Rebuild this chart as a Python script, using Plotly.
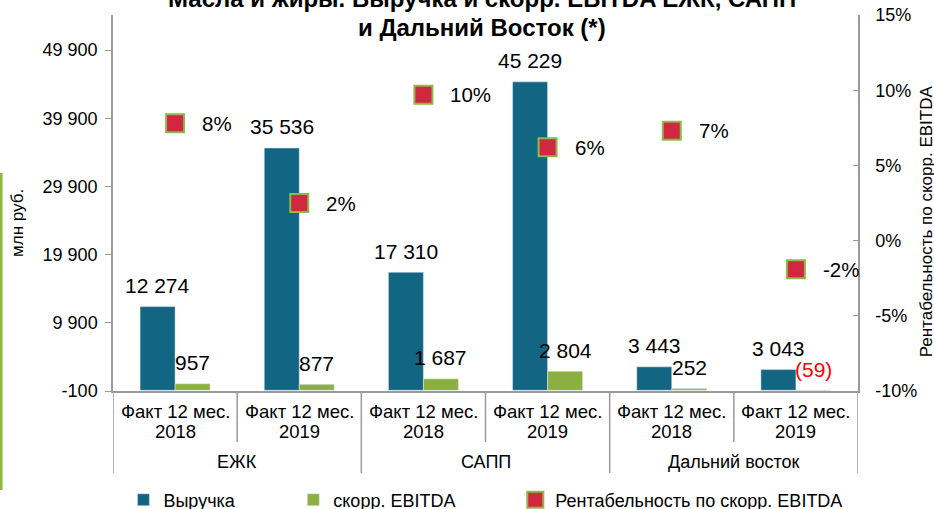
import plotly.graph_objects as go

# ---- data ----
groups = ["ЕЖК", "САПП", "Дальний восток"]
cat_group = ["ЕЖК", "ЕЖК", "САПП", "САПП", "Дальний восток", "Дальний восток"]
cat_period = ["Факт 12 мес."] * 6
cat_year = ["2018", "2019", "2018", "2019", "2018", "2019"]
revenue = [12274, 35536, 17310, 45229, 3443, 3043]
ebitda = [957, 877, 1687, 2804, 252, -59]
margin_pct = [7.8, 2.5, 9.7, 6.2, 7.3, -1.9]
margin_labels = ["8%", "2%", "10%", "6%", "7%", "-2%"]
left_tickvals = [-100, 9900, 19900, 29900, 39900, 49900]
left_ticktext = ["-100", "9 900", "19 900", "29 900", "39 900", "49 900"]
right_tickvals = [-10, -5, 0, 5, 10, 15]
right_ticktext = ["-10%", "-5%", "0%", "5%", "10%", "15%"]

title_line1 = "Масла и жиры. Выручка и скорр. EBITDA ЕЖК, САПП"
title_line2 = "и Дальний Восток (*)"

BLUE = "#126684"
GREEN = "#8BB041"
RED = "#D02840"
MGREEN = "#8DB84A"
GRAY = "#9A9A9A"
FONT = "Liberation Sans"

def fmt(v):
    s = f"{abs(v):,}".replace(",", " ")
    return f"({s})" if v < 0 else s

n = len(revenue)
xs = list(range(n))
bargap = 0.436
bw = (1 - bargap) / 2

fig = go.Figure()
fig.add_trace(go.Bar(x=xs, y=revenue, name="Выручка", marker=dict(color=BLUE),
                     legend="legend"))
fig.add_trace(go.Bar(x=xs, y=ebitda, name="скорр. EBITDA", marker=dict(color=GREEN),
                     legend="legend2"))
fig.add_trace(go.Scatter(x=xs, y=margin_pct, yaxis="y2", mode="markers",
                         name="Рентабельность по скорр. EBITDA",
                         marker=dict(symbol="square", size=18, color=RED,
                                     line=dict(color=MGREEN, width=2)),
                         cliponaxis=False, legend="legend3"))

ann = []
for i in xs:
    ann.append(dict(x=i - bw / 2, y=revenue[i], xref="x", yref="y", text=fmt(revenue[i]),
                    showarrow=False, yanchor="middle", yshift=21,
                    font=dict(size=21, color="black", family=FONT)))
    ann.append(dict(x=i + bw / 2, y=max(ebitda[i], 0), xref="x", yref="y", text=fmt(ebitda[i]),
                    showarrow=False, yanchor="middle", yshift=21,
                    font=dict(size=21, color="red" if ebitda[i] < 0 else "black", family=FONT)))
    ann.append(dict(x=i, y=margin_pct[i], xref="x", yref="y2", text=margin_labels[i],
                    showarrow=False, xanchor="left", yanchor="middle", xshift=25,
                    font=dict(size=20.5, color="black", family=FONT)))
    ann.append(dict(x=i, y=-0.0532, xref="x", yref="paper", text=cat_period[i],
                    showarrow=False, yanchor="middle",
                    font=dict(size=18.5, color="black", family=FONT)))
    ann.append(dict(x=i, y=-0.1064, xref="x", yref="paper", text=cat_year[i],
                    showarrow=False, yanchor="middle",
                    font=dict(size=18.5, color="black", family=FONT)))

for gi, g in enumerate(groups):
    ann.append(dict(x=gi * 2 + 0.5, y=-0.1888, xref="x", yref="paper", text=g,
                    showarrow=False, yanchor="middle",
                    font=dict(size=18, color="black", family=FONT)))

ann.append(dict(x=0.495, y=1.045, xref="paper", yref="paper", text=title_line1,
                showarrow=False, yanchor="middle",
                font=dict(size=24, color="black", family=FONT, weight="bold")))
ann.append(dict(x=0.495, y=0.966, xref="paper", yref="paper", text=title_line2,
                showarrow=False, yanchor="middle",
                font=dict(size=24, color="black", family=FONT, weight="bold")))
ann.append(dict(x=-0.1275, y=0.447, xref="paper", yref="paper", text="млн руб.",
                showarrow=False, textangle=-90, xanchor="center", yanchor="middle",
                font=dict(size=17, color="black", family=FONT)))
ann.append(dict(x=1.092, y=0.45, xref="paper", yref="paper",
                text="Рентабельность по скорр. EBITDA",
                showarrow=False, textangle=-90, xanchor="center", yanchor="middle",
                font=dict(size=17, color="black", family=FONT)))

shapes = []
for b in [0.5, 2.5, 4.5]:
    shapes.append(dict(type="line", xref="x", yref="paper", x0=b, x1=b, y0=0, y1=-0.1356,
                       line=dict(color=GRAY, width=1.5)))
for b in [-0.5, 1.5, 3.5, 5.5]:
    shapes.append(dict(type="line", xref="x", yref="paper", x0=b, x1=b, y0=0, y1=-0.218,
                       line=dict(color=GRAY, width=1.5)))
shapes.append(dict(type="line", xref="paper", yref="paper", x0=-0.1503, x1=-0.1503,
                   y0=0.58, y1=-0.263, line=dict(color="#8DB83F", width=3)))

leg_common = dict(orientation="h", yanchor="middle", y=-0.29, xanchor="left",
                  font=dict(size=18, color="black", family=FONT),
                  bgcolor="rgba(0,0,0,0)", itemwidth=30, visible=True)

fig.update_layout(
    width=934, height=509, autosize=False,
    margin=dict(l=113, r=76, t=15, b=118, autoexpand=False),
    paper_bgcolor="white", plot_bgcolor="white",
    showlegend=True,
    barmode="group", bargap=bargap, bargroupgap=0,
    font=dict(family=FONT, size=18, color="black"),
    xaxis=dict(range=[-0.5, 5.5], showticklabels=False, showgrid=False, zeroline=False,
               showline=True, linecolor=GRAY, linewidth=1.5, ticks=""),
    yaxis=dict(range=[-100, 55032], tickvals=left_tickvals, ticktext=left_ticktext,
               showgrid=False, zeroline=False, showline=True, linecolor=GRAY, linewidth=1.5,
               ticks="outside", ticklen=6, tickcolor=GRAY, ticklabelstandoff=4,
               tickfont=dict(size=18, family=FONT, color="black")),
    yaxis2=dict(range=[-10, 15], tickvals=right_tickvals, ticktext=right_ticktext,
                overlaying="y",
                side="right", showgrid=False, zeroline=False, showline=True, linecolor=GRAY,
                linewidth=1.5, ticks="inside", ticklen=5, tickcolor=GRAY,
                ticklabelstandoff=12, tickfont=dict(size=18, family=FONT, color="black")),
    legend=dict(leg_common, x=0.014),
    legend2=dict(leg_common, x=0.242),
    legend3=dict(leg_common, x=0.54),
    annotations=ann, shapes=shapes,
)

fig.write_html("out.html", config={"displayModeBar": False},
               post_script="document.body.style.margin='0';document.body.style.overflow='hidden';")
